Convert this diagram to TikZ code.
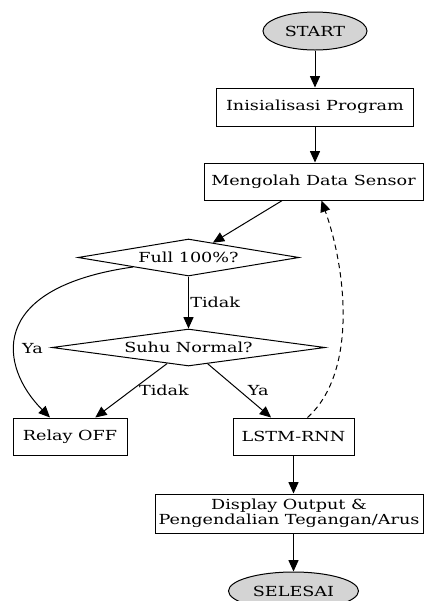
\documentclass[tikz,border=0pt]{standalone}
\usepackage{fontspec}
\setmainfont[FakeStretch=1.27]{DejaVu Serif}
\usetikzlibrary{arrows.meta,shapes.geometric}
\tikzset{
  box/.style={draw, line width=0.75pt, align=center, minimum height=27.75pt,
    inner sep=2pt, font=\fontsize{10.4}{9.2}\selectfont},
  term/.style={box, ellipse, fill=black!17, minimum height=28.5pt},
  decision/.style={box, diamond, inner sep=0pt, shape aspect=6},
  lbl/.style={font=\fontsize{10.4}{9.2}\selectfont, inner sep=1pt},
  flow/.style={-{Triangle[length=8.5pt,width=7.5pt]}, line width=0.75pt},
  loop/.style={flow, dash pattern=on 4pt off 3pt},
}

\begin{document}
\begin{tikzpicture}[x=0.75pt, y=-0.75pt]
    \useasboundingbox (0,0) rectangle (424,601);
    \node[term, minimum width=78pt] (start) at (315,31) {START};
    \node[box, minimum width=147.75pt, minimum height=28.5pt] (init) at (315,107) {Inisialisasi Program};
    \node[box, minimum width=164.25pt] (olah) at (313.5,181.5) {Mengolah Data Sensor};
    \node[decision, minimum width=165.75pt] (full) at (188.5,257.5) {Full 100\%?};
    \node[decision, minimum width=204.75pt] (suhu) at (188.5,347.5) {Suhu Normal?};
    \node[box, minimum width=85.5pt] (relay) at (70,436.5) {Relay OFF};
    \node[box, minimum width=90.75pt] (lstm) at (293.5,436.5) {LSTM-RNN};
    \node[box, minimum width=201pt, minimum height=29.25pt] (disp) at (289,513.5)
      {Display Output \&\\Pengendalian Tegangan/Arus};
    \node[term, minimum width=97.5pt] (selesai) at (293.5,591) {SELESAI};
    \draw[flow] (start) -- (init);
    \draw[flow] (init.south) -- (init.south |- olah.north);
    \draw[flow] (olah) -- (full);
    \draw[flow] (full) -- node[lbl, right] {Tidak} (suhu);
    \draw[flow] (full.south west) .. controls +(-148,21) and +(-50,-50)
      .. node[lbl, pos=0.6, right=4pt] {Ya} ([xshift=-15pt]relay.north);
    \draw[flow] (suhu) -- node[lbl, right=4.5pt] {Tidak} (relay);
    \draw[flow] (suhu) -- node[lbl, right=5pt] {Ya} (lstm);
    \draw[loop] ([xshift=10.5pt]lstm.north) .. controls +(50,-45) and +(25,70)
      .. ([xshift=6pt]olah.south);
    \draw[flow] (lstm) -- (lstm |- disp.north);
    \draw[flow] (disp.south -| selesai) -- (selesai);
\end{tikzpicture}
\end{document}
